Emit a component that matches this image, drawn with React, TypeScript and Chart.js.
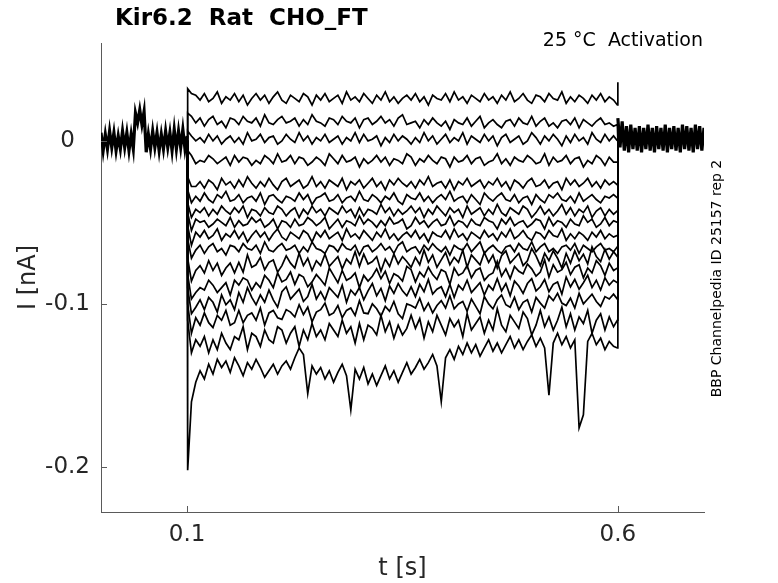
import React, { useEffect, useRef } from "react";
import Chart from "chart.js/auto";

Chart.defaults.font.family = '"DejaVu Sans", sans-serif';

const chartTitle = "Kir6.2  Rat  CHO_FT";
const conditionLabel = "25 °C  Activation";
const sourceLabel = "BBP Channelpedia ID 25157 rep 2";

// currents are stored in pA, the axis is labelled in nA
const xTickValues = [0.1, 0.6];
const xTickLabels = ["0.1", "0.6"];
const yTickValues = [-200, -100, 0];
const yTickLabels = ["-0.2", "-0.1", "0"];

// holding level before the step (s, pA)
const preTime = [
  0, 0.0025, 0.005, 0.0075, 0.01, 0.0125, 0.015, 0.0175, 0.02, 0.0225,
  0.025, 0.0275, 0.03, 0.0325, 0.035, 0.0375, 0.04, 0.0425, 0.045, 0.0475,
  0.05, 0.0525, 0.055, 0.0575, 0.06, 0.0625, 0.065, 0.0675, 0.07, 0.0725,
  0.075, 0.0775, 0.08, 0.0825, 0.085, 0.0875, 0.09, 0.0925, 0.095, 0.0975,
  0.1,
];
const preBase = [
  5, -6, 4, -5, 6, -4, 5, -6, 3, -5,
  6, -4, 5, -6, 4, -5, 17, 11, 19, 10,
  18, -7, 4, -5, 6, -4, 5, -6, 4, -5,
  6, -4, 5, -6, 7, -5, 6, -4, 7, -5,
  3,
];

// holding level after the step
const postTime = [
  0.6, 0.6025, 0.605, 0.6075, 0.61, 0.6125, 0.615, 0.6175, 0.62, 0.6225,
  0.625, 0.6275, 0.63, 0.6325, 0.635, 0.6375, 0.64, 0.6425, 0.645, 0.6475,
  0.65, 0.6525, 0.655, 0.6575, 0.66, 0.6625, 0.665, 0.6675, 0.67, 0.6725,
  0.675, 0.6775, 0.68, 0.6825, 0.685, 0.6875, 0.69, 0.6925, 0.695, 0.6975,
  0.7,
];
const postBase = [
  14, -4, 12, -6, 9, -7, 10, -5, 8, -6,
  9, -7, 8, -5, 10, -6, 8, -7, 9, -5,
  8, -6, 10, -7, 8, -5, 9, -6, 8, -7,
  10, -5, 9, -6, 8, -7, 10, -5, 9, -6,
  8,
];

// sample times of the sweeps during the activation step
const stepTime = [
  0.1, 0.1006, 0.105,
  0.11, 0.115, 0.12, 0.125, 0.13, 0.135, 0.14, 0.145, 0.15, 0.155,
  0.16, 0.165, 0.17, 0.175, 0.18, 0.185, 0.19, 0.195, 0.2, 0.205,
  0.21, 0.215, 0.22, 0.225, 0.23, 0.235, 0.24, 0.245, 0.25, 0.255,
  0.26, 0.265, 0.27, 0.275, 0.28, 0.285, 0.29, 0.295, 0.3, 0.305,
  0.31, 0.315, 0.32, 0.325, 0.33, 0.335, 0.34, 0.345, 0.35, 0.355,
  0.36, 0.365, 0.37, 0.375, 0.38, 0.385, 0.39, 0.395, 0.4, 0.405,
  0.41, 0.415, 0.42, 0.425, 0.43, 0.435, 0.44, 0.445, 0.45, 0.455,
  0.46, 0.465, 0.47, 0.475, 0.48, 0.485, 0.49, 0.495, 0.5, 0.505,
  0.51, 0.515, 0.52, 0.525, 0.53, 0.535, 0.54, 0.545, 0.55, 0.555,
  0.56, 0.565, 0.57, 0.575, 0.58, 0.585, 0.59, 0.595,
  0.5994, 0.6,
];

const sweep01 = [
  0, 32, 29,
  28, 25, 29, 24, 26, 30, 23, 27, 25, 29,
  24, 28, 22, 26, 29, 25, 28, 23, 27, 30,
  25, 23, 28, 26, 24, 29, 27, 22, 28, 25,
  29, 24, 26, 28, 23, 30, 25, 27, 24, 29,
  26, 23, 28, 25, 30, 24, 27, 23, 26, 28,
  25, 29, 24, 27, 22, 28, 26, 25, 29, 24,
  30, 25, 27, 23, 28, 26, 24, 29, 25, 27,
  23, 28, 25, 30, 24, 26, 29, 25, 23, 28,
  27, 24, 29, 26, 25, 30, 23, 27, 24, 28,
  26, 23, 28, 25, 29, 24, 27, 25,
  22, 36,
];
const sweep02 = [
  0, 17, 15,
  11, 14, 9, 13, 15, 10, 12, 8, 14, 13,
  10, 15, 12, 11, 14, 9, 16, 11, 10, 13,
  15, 11, 12, 14, 9, 13, 10, 16, 12, 11,
  9, 14, 13, 10, 15, 12, 11, 14, 8, 13,
  14, 10, 12, 15, 11, 13, 9, 14, 16, 10,
  11, 12, 8, 13, 10, 14, 11, 9, 12, 7,
  13, 11, 10, 14, 9, 12, 15, 8, 11, 13,
  10, 8, 12, 13, 9, 14, 11, 10, 15, 9,
  12, 14, 9, 11, 8, 12, 13, 10, 14, 8,
  13, 11, 9, 12, 14, 10, 11, 9,
  10, 0,
];
const sweep03 = [
  0, 6, 3,
  0, 2, -1, 4, 0, 3, -2, 1, 3, -1,
  2, -2, 5, 0, 1, 4, -1, 2, 3, -2,
  0, 4, 1, -1, 5, 0, 3, -2, 2, 0,
  4, -1, 1, 3, -2, 2, 0, 5, -1, 4,
  0, 1, 3, -3, 2, -1, 4, 0, 3, 1,
  -2, 2, -1, 5, 0, 3, -2, 1, 4, -1,
  2, 0, 5, -2, 3, 1, -1, 4, 0, 3,
  -3, 2, 4, -1, 1, 3, -2, 0, 5, 2,
  -2, 3, 0, 4, 1, -3, 3, -1, 4, 0,
  2, -2, 5, 1, -1, 4, 0, 3,
  0, 0,
];
const sweep04 = [
  0, -6, -9,
  -14, -12, -13, -9, -11, -14, -12, -10, -15, -9,
  -13, -10, -11, -15, -12, -14, -9, -11, -14, -8,
  -13, -12, -9, -14, -10, -11, -15, -13, -10, -12,
  -15, -8, -11, -14, -9, -13, -12, -10, -16, -11,
  -14, -12, -9, -13, -10, -15, -11, -12, -14, -8,
  -10, -15, -11, -13, -9, -12, -14, -10, -11, -16,
  -10, -13, -12, -9, -14, -11, -10, -15, -13, -12,
  -8, -14, -11, -15, -10, -12, -13, -9, -11, -14,
  -13, -8, -15, -10, -13, -12, -9, -14, -11, -10,
  -16, -12, -14, -9, -11, -15, -10, -13,
  -13, 0,
];
const sweep05 = [
  0, -22, -28,
  -28, -25, -29, -24, -26, -30, -23, -27, -25, -29,
  -24, -28, -22, -26, -29, -25, -28, -23, -27, -30,
  -25, -23, -28, -26, -24, -29, -27, -22, -28, -25,
  -29, -24, -26, -28, -23, -30, -25, -27, -24, -29,
  -26, -23, -28, -25, -30, -24, -27, -23, -26, -28,
  -25, -29, -24, -27, -22, -28, -26, -25, -29, -24,
  -30, -25, -27, -23, -28, -26, -24, -29, -25, -27,
  -23, -28, -25, -30, -24, -26, -29, -25, -23, -28,
  -27, -24, -29, -26, -25, -30, -23, -27, -24, -28,
  -26, -23, -28, -25, -29, -24, -27, -25,
  -27, 0,
];
const sweep06 = [
  0, -30, -38,
  -34, -37, -32, -36, -38, -33, -35, -31, -37, -36,
  -33, -38, -35, -34, -37, -32, -39, -34, -33, -36,
  -38, -34, -35, -37, -32, -36, -33, -39, -35, -34,
  -32, -37, -36, -33, -38, -35, -34, -37, -31, -36,
  -37, -33, -35, -38, -34, -36, -32, -37, -39, -33,
  -35, -36, -32, -37, -34, -38, -35, -33, -36, -31,
  -37, -35, -34, -38, -33, -36, -39, -32, -35, -37,
  -34, -32, -36, -37, -33, -38, -35, -34, -39, -33,
  -36, -38, -33, -35, -32, -36, -37, -34, -38, -32,
  -37, -35, -33, -36, -38, -34, -35, -33,
  -35, 0,
];
const sweep07 = [
  0, -38, -47,
  -42, -44, -41, -46, -42, -45, -40, -43, -45, -41,
  -44, -40, -47, -42, -43, -46, -41, -44, -45, -40,
  -42, -46, -43, -41, -47, -42, -45, -40, -44, -42,
  -46, -41, -43, -45, -40, -44, -42, -47, -41, -46,
  -42, -43, -45, -39, -44, -41, -46, -42, -45, -43,
  -40, -44, -41, -47, -42, -45, -40, -43, -46, -41,
  -44, -42, -47, -40, -45, -43, -41, -46, -42, -45,
  -39, -44, -46, -41, -43, -45, -40, -42, -47, -44,
  -40, -45, -42, -46, -43, -39, -45, -41, -46, -42,
  -44, -40, -47, -43, -41, -46, -42, -45,
  -43, 0,
];
const sweep08 = [
  0, -44, -55,
  -48, -50, -49, -53, -51, -48, -50, -52, -47, -53,
  -49, -52, -51, -47, -50, -48, -53, -51, -48, -54,
  -49, -50, -53, -48, -52, -51, -47, -49, -52, -50,
  -47, -54, -51, -48, -53, -49, -50, -52, -46, -51,
  -48, -50, -53, -49, -52, -47, -51, -50, -48, -54,
  -52, -47, -51, -49, -53, -50, -48, -52, -51, -46,
  -52, -49, -50, -53, -48, -51, -52, -47, -49, -50,
  -54, -48, -51, -47, -52, -50, -49, -53, -51, -48,
  -49, -54, -47, -52, -49, -50, -53, -48, -51, -52,
  -46, -50, -48, -53, -51, -47, -52, -49,
  -50, 0,
];
const sweep09 = [
  0, -52, -64,
  -56, -59, -55, -60, -58, -54, -61, -57, -59, -55,
  -60, -56, -62, -58, -55, -59, -56, -61, -57, -54,
  -59, -61, -56, -58, -60, -55, -57, -62, -56, -59,
  -55, -60, -58, -56, -61, -54, -59, -57, -60, -55,
  -58, -61, -56, -59, -54, -60, -57, -61, -58, -56,
  -59, -55, -60, -57, -62, -56, -58, -59, -55, -60,
  -54, -59, -57, -61, -56, -58, -60, -55, -59, -57,
  -61, -56, -59, -54, -60, -58, -55, -59, -61, -56,
  -57, -60, -55, -58, -59, -54, -61, -57, -60, -56,
  -58, -61, -56, -59, -55, -60, -57, -59,
  -58, 0,
];
const sweep10 = [
  0, -60, -72,
  -67, -64, -69, -65, -63, -68, -66, -70, -64, -65,
  -68, -63, -66, -67, -64, -69, -62, -67, -68, -65,
  -63, -67, -66, -64, -69, -65, -68, -62, -66, -67,
  -69, -64, -65, -68, -63, -66, -67, -64, -70, -65,
  -64, -68, -66, -63, -67, -65, -69, -64, -62, -68,
  -66, -65, -69, -64, -67, -63, -66, -68, -65, -70,
  -64, -66, -67, -63, -68, -65, -62, -69, -66, -64,
  -67, -69, -65, -64, -68, -63, -66, -67, -62, -68,
  -65, -63, -68, -66, -69, -65, -64, -67, -63, -69,
  -64, -66, -68, -65, -63, -67, -66, -68,
  -65, 0,
];
const sweep11 = [
  0, -72, -86,
  -79.5, -76.5, -81, -73.5, -79.5, -75, -82.5, -78, -75, -81,
  -74.5, -80.5, -70, -77.5, -76, -71.5, -79, -74.5, -73, -80.5,
  -76.5, -70.5, -75, -78, -69, -76.5, -72, -79.5, -73.5, -76.5,
  -69.5, -77, -74, -71, -78.5, -72.5, -75.5, -68, -77, -69.5,
  -75.5, -74, -71, -80, -72.5, -77, -69.5, -75.5, -71, -74,
  -77.5, -71.5, -76, -67, -74.5, -70, -77.5, -73, -68.5, -76,
  -71.5, -74.5, -67, -77.5, -70, -73, -76, -68.5, -74.5, -70,
  -78, -70.5, -67.5, -75, -72, -69, -76.5, -73.5, -66, -70.5,
  -76.5, -69, -73.5, -67.5, -72, -78, -69, -75, -67.5, -73.5,
  -69.5, -75.5, -65, -71, -74, -66.5, -72.5, -68,
  -71, 0,
];
const sweep12 = [
  0, -82, -97,
  -93, -90, -91.5, -85.5, -88.5, -93, -90, -87, -94.5, -85.5,
  -88.5, -84, -85.5, -91.5, -87, -90, -82.5, -85.5, -90, -81,
  -86.5, -85, -80.5, -88, -82, -83.5, -89.5, -86.5, -82, -85,
  -88.5, -78, -82.5, -87, -79.5, -85.5, -84, -81, -90, -82.5,
  -86, -83, -78.5, -84.5, -80, -87.5, -81.5, -83, -86, -77,
  -79, -86.5, -80.5, -83.5, -77.5, -82, -85, -79, -80.5, -88,
  -78, -82.5, -81, -76.5, -84, -79.5, -78, -85.5, -82.5, -81,
  -74, -83, -78.5, -84.5, -77, -80, -81.5, -75.5, -78.5, -83,
  -80.5, -73, -83.5, -76, -80.5, -79, -74.5, -82, -77.5, -76,
  -84, -78, -81, -73.5, -76.5, -82.5, -75, -79.5,
  -78, 0,
];
const sweep13 = [
  0, -90, -106,
  -102, -97.5, -103.5, -96, -99, -105, -94.5, -100.5, -97.5, -103.5,
  -93, -99, -90, -96, -100.5, -94.5, -99, -91.5, -97.5, -102,
  -92.5, -89.5, -97, -94, -91, -98.5, -95.5, -88, -97, -92.5,
  -97.5, -90, -93, -96, -88.5, -99, -91.5, -94.5, -90, -97.5,
  -92, -87.5, -95, -90.5, -98, -89, -93.5, -87.5, -92, -95,
  -89.5, -95.5, -88, -92.5, -85, -94, -91, -89.5, -95.5, -88,
  -96, -88.5, -91.5, -85.5, -93, -90, -87, -94.5, -88.5, -91.5,
  -84.5, -92, -87.5, -95, -86, -89, -93.5, -87.5, -84.5, -92,
  -89.5, -85, -92.5, -88, -86.5, -94, -83.5, -89.5, -85, -91,
  -87, -82.5, -90, -85.5, -91.5, -84, -88.5, -85.5,
  -87, 0,
];
const sweep14 = [
  0, -100, -118,
  -108.5, -113, -105.5, -111.5, -114.5, -107, -110, -104, -113, -111.5,
  -104, -111.5, -107, -105.5, -110, -102.5, -113, -105.5, -104, -108.5,
  -109.5, -103.5, -105, -108, -100.5, -106.5, -102, -111, -105, -103.5,
  -99.5, -107, -105.5, -101, -108.5, -104, -102.5, -107, -98, -105.5,
  -106, -100, -103, -107.5, -101.5, -104.5, -98.5, -106, -109, -100,
  -101, -102.5, -96.5, -104, -99.5, -105.5, -101, -98, -102.5, -95,
  -103, -100, -98.5, -104.5, -97, -101.5, -106, -95.5, -100, -103,
  -97.5, -94.5, -100.5, -102, -96, -103.5, -99, -97.5, -105, -96,
  -99.5, -102.5, -95, -98, -93.5, -99.5, -101, -96.5, -102.5, -93.5,
  -100, -97, -94, -98.5, -101.5, -95.5, -97, -94,
  -97, 0,
];
const sweep15 = [
  0, -110, -130,
  -122, -126, -120, -130, -122, -128, -118, -124, -128, -120,
  -122, -114, -128, -118, -120, -126, -116, -122, -124, -114,
  -116, -124, -118, -114, -126, -116, -122, -112, -120, -116,
  -122, -112, -116, -120, -110, -118, -114, -124, -112, -122,
  -113, -115, -119, -107, -117, -111, -121, -113, -119, -115,
  -107, -115, -109, -121, -111, -117, -107, -113, -119, -109,
  -114, -110, -120, -106, -116, -112, -108, -118, -110, -116,
  -103, -113, -117, -107, -111, -115, -105, -109, -119, -113,
  -104, -114, -108, -116, -110, -102, -114, -106, -116, -108,
  -112, -104, -118, -110, -106, -116, -108, -114,
  -110, 0,
];
// deepest sweep with its sharp downward spikes
const sweep16 = [
  0, -202, -160,
  -148, -141, -146, -137, -143, -134, -139, -135, -142, -133,
  -138, -144, -136, -140, -134, -139, -145, -141, -137, -143,
  -138, -135, -140, -133, -127, -131, -155, -138, -143, -139,
  -146, -141, -148, -142, -137, -144, -165, -140, -146, -139,
  -149, -143, -150, -144, -138, -146, -141, -148, -142, -136,
  -143, -139, -134, -140, -136, -131, -138, -160, -133, -128,
  -134, -126, -131, -124, -130, -125, -132, -127, -122, -129,
  -124, -130, -125, -120, -127, -122, -128, -123, -119, -126,
  -121, -127, -156, -124, -118, -125, -120, -127, -122, -176,
  -168, -123, -118, -125, -121, -128, -123, -126,
  -127, 0,
];

const sweeps = [
  sweep01, sweep02, sweep03, sweep04, sweep05, sweep06, sweep07, sweep08,
  sweep09, sweep10, sweep11, sweep12, sweep13, sweep14, sweep15, sweep16,
];

const App: React.FC = () => {
  const chartRef = useRef<HTMLCanvasElement | null>(null);

  useEffect(() => {
    if (!chartRef.current) return;
    const ctx = chartRef.current.getContext("2d");
    if (!ctx) return;

    const toPoints = (ts: number[], vs: number[]) =>
      ts.map((t, i) => ({ x: t, y: vs[i] }));
    const trace = (data: { x: number; y: number }[], width: number) => ({
      data,
      borderColor: "#000",
      borderWidth: width,
      pointRadius: 0,
      tension: 0,
      fill: false,
    });

    const datasets = [
      trace(toPoints(preTime, preBase), 3.2),
      trace(toPoints(postTime, postBase), 3.2),
      ...sweeps.map((s) => trace(toPoints(stepTime, s), 1.7)),
    ];

    const axisColor = "#5a5a5a";

    const decorations = {
      id: "decorations",
      afterDraw(chart: Chart) {
        const c = chart.ctx;
        const { left, bottom } = chart.chartArea;
        c.save();
        // ticks pointing into the axes
        c.strokeStyle = axisColor;
        c.lineWidth = 1;
        yTickValues.forEach((v) => {
          const py = Math.round(chart.scales.y.getPixelForValue(v)) + 0.5;
          c.beginPath();
          c.moveTo(left, py);
          c.lineTo(left + 6, py);
          c.stroke();
        });
        xTickValues.forEach((v) => {
          const px = Math.round(chart.scales.x.getPixelForValue(v)) + 0.5;
          c.beginPath();
          c.moveTo(px, bottom);
          c.lineTo(px, bottom - 6);
          c.stroke();
        });

        c.fillStyle = "#000";
        c.textBaseline = "alphabetic";
        c.font = 'bold 23px "DejaVu Sans"';
        c.textAlign = "left";
        c.fillText(chartTitle, 115, 25);

        c.font = '19px "DejaVu Sans"';
        c.textAlign = "right";
        c.fillText(conditionLabel, 703, 46);

        c.translate(717, 278.5);
        c.rotate(-Math.PI / 2);
        c.font = '14px "DejaVu Sans"';
        c.textAlign = "center";
        c.textBaseline = "middle";
        c.fillText(sourceLabel, 0, 0);
        c.restore();
      },
    };

    const chart = new Chart(ctx, {
      type: "line",
      data: { datasets },
      options: {
        animation: false,
        responsive: true,
        maintainAspectRatio: false,
        layout: { padding: { top: 43, right: 74, bottom: 0, left: 0 } },
        plugins: {
          legend: { display: false },
          tooltip: { enabled: false },
        },
        scales: {
          x: {
            type: "linear",
            min: 0,
            max: 0.7,
            afterBuildTicks: (s: any) => {
              s.ticks = xTickValues.map((v) => ({ value: v }));
            },
            afterFit: (s: any) => {
              s.height = 71;
            },
            grid: { display: false },
            border: { display: true, color: axisColor, width: 1 },
            ticks: {
              autoSkip: false,
              maxRotation: 0,
              padding: 1,
              color: "#262626",
              font: { size: 23 },
              callback: (v: any) => {
                const i = xTickValues.indexOf(Number(v));
                return i >= 0 ? xTickLabels[i] : "";
              },
            },
            title: {
              display: true,
              text: "t [s]",
              color: "#262626",
              font: { size: 24 },
              padding: { top: 0, bottom: 0 },
            },
          },
          y: {
            type: "linear",
            min: -227.6,
            max: 60,
            afterBuildTicks: (s: any) => {
              s.ticks = yTickValues.map((v) => ({ value: v }));
            },
            afterFit: (s: any) => {
              s.width = 101;
            },
            grid: { display: false },
            border: { display: true, color: axisColor, width: 1 },
            ticks: {
              autoSkip: false,
              padding: 3,
              crossAlign: "center",
              color: "#262626",
              font: { size: 23 },
              callback: (v: any) => {
                const i = yTickValues.indexOf(Number(v));
                return i >= 0 ? yTickLabels[i] : "";
              },
            },
            title: {
              display: true,
              text: "I [nA]",
              color: "#262626",
              font: { size: 24 },
              padding: { top: 14, bottom: 0 },
            },
          },
        },
      },
      plugins: [decorations],
    });

    return () => {
      chart.destroy();
    };
  }, []);

  return (
    <div
      style={{
        position: "fixed",
        left: 0,
        top: 0,
        width: 778,
        height: 583,
        background: "#fff",
      }}
    >
      <canvas ref={chartRef} />
    </div>
  );
};

export default App;
